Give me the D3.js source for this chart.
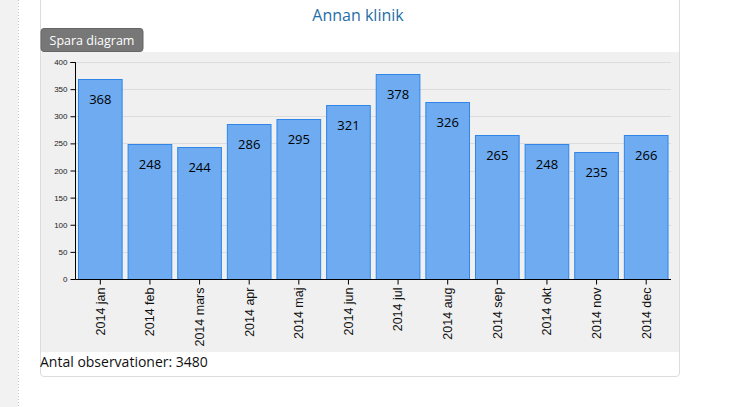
<!DOCTYPE html>
<html><head><meta charset="utf-8">
<script src="https://cdnjs.cloudflare.com/ajax/libs/d3/7.8.5/d3.min.js"></script>
<style>
html,body{margin:0;padding:0;background:#fff;}
svg{display:block;}
</style></head>
<body>
<svg id="c" width="734" height="407"></svg>
<script>
const categories = ["2014 jan","2014 feb","2014 mars","2014 apr","2014 maj","2014 jun","2014 jul","2014 aug","2014 sep","2014 okt","2014 nov","2014 dec"];
const values = [368,248,244,286,295,321,378,326,265,248,235,266];
const yTicks = [0,50,100,150,200,250,300,350,400];
const title = "Annan klinik";
const buttonLabel = "Spara diagram";
const footer = "Antal observationer: 3480";

const svg = d3.select("#c");
// left page strip
svg.append("rect").attr("x",0).attr("y",0).attr("width",18).attr("height",407).attr("fill","#f2f2f2");
svg.append("line").attr("x1",18.5).attr("x2",18.5).attr("y1",0).attr("y2",407)
  .attr("stroke","#c8c8c8").attr("stroke-dasharray","1,2");
// panel
svg.append("path").attr("d","M40.5,-2 V373 Q40.5,376.5 44,376.5 H676 Q679.5,376.5 679.5,373 V-2")
  .attr("fill","#fff").attr("stroke","#dcdcdc");
// chart background
svg.append("rect").attr("x",41).attr("y",52).attr("width",638).attr("height",300).attr("fill","#f0f0f0");
// title
svg.append("text").attr("x",358).attr("y",21).attr("text-anchor","middle")
  .attr("font-family","'Open Sans',sans-serif").attr("font-size",16).attr("fill","#1f6ea8").text(title);
// button
svg.append("rect").attr("x",41).attr("y",28.5).attr("width",102).attr("height",23).attr("rx",3)
  .attr("fill","#777").attr("stroke","#666");
svg.append("text").attr("x",92).attr("y",45).attr("text-anchor","middle")
  .attr("font-family","'Open Sans',sans-serif").attr("font-size",12.5).attr("fill","#fff").text(buttonLabel);

const x = d3.scaleBand().domain(categories).range([75.5,671]).paddingInner(0.1).paddingOuter(0.05);
const y = d3.scaleLinear().domain([0,400]).range([279,62]);

const g = svg.append("g");
// grid
g.selectAll("line.grid").data(yTicks.filter(d=>d>0)).join("line")
  .attr("x1",75.5).attr("x2",671).attr("y1",d=>Math.round(y(d))+0.5).attr("y2",d=>Math.round(y(d))+0.5)
  .attr("stroke","#dcdcdc");
// bars
g.selectAll("rect.bar").data(values).join("rect")
  .attr("x",(d,i)=>x(categories[i])+0.5).attr("y",d=>Math.round(y(d))+0.5)
  .attr("width",x.bandwidth()-1).attr("height",d=>y(0)-Math.round(y(d)))
  .attr("fill","#6eabf0").attr("stroke","#2f86e8").attr("stroke-width",1);
g.selectAll("text.val").data(values).join("text")
  .attr("x",(d,i)=>x(categories[i])+x.bandwidth()/2).attr("y",d=>y(d)+25)
  .attr("text-anchor","middle").attr("font-family","'Open Sans',sans-serif").attr("font-size",13)
  .attr("fill","#000").text(d=>d);

// axes
const ya = svg.append("g").attr("transform","translate(75.5,0)")
  .call(d3.axisLeft(y).tickValues(yTicks).tickSize(5).tickPadding(3));
ya.select(".domain").attr("d","M-5,62.5H0V279.5");
ya.selectAll("text").attr("font-family","'Liberation Sans',Arial,sans-serif").attr("font-size",8).attr("fill","#222");
const xa = svg.append("g").attr("transform","translate(0,279.5)")
  .call(d3.axisBottom(x).tickSize(5).tickSizeOuter(0));
xa.select(".domain").attr("d","M75.5,0H671");
xa.selectAll("text").attr("font-family","'Liberation Sans',Arial,sans-serif").attr("font-size",12.5).attr("fill","#111")
  .attr("transform","rotate(-90)").attr("text-anchor","end").attr("x",-8).attr("y",0).attr("dy","0.35em");
svg.selectAll(".domain, .tick line").attr("stroke","#000");

svg.append("text").attr("x",40).attr("y",367).attr("font-family","'Open Sans',sans-serif").attr("font-size",14)
  .attr("fill","#111").text(footer);
</script>
</body></html>
